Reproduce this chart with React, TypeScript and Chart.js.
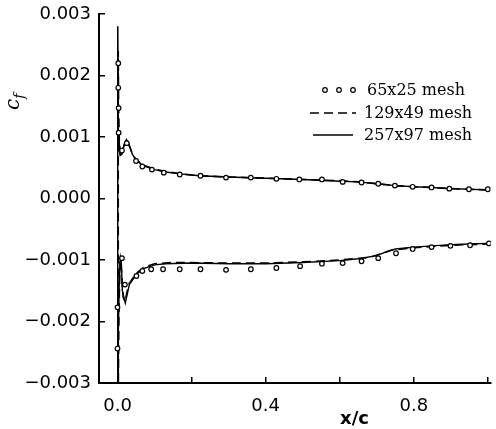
import React, { useEffect, useRef } from "react";
import { Chart, registerables } from "chart.js";

Chart.register(...registerables);

// ---- axis ticks ----
const xTickValues = [0, 0.2, 0.4, 0.6, 0.8, 1.0];
const xTickLabels = ["0.0", "", "0.4", "", "0.8", ""];
const yTickValues = [-0.003, -0.002, -0.001, 0, 0.001, 0.002, 0.003];
const yTickLabels = ["\u22120.003", "\u22120.002", "\u22120.001", "0.000", "0.001", "0.002", "0.003"];

const seriesLabels = ["65x25 mesh", "129x49 mesh", "257x97 mesh"];

// ---- 65x25 mesh (symbols) ----
const coarseUpperX = [0.002, 0.002, 0.003, 0.003, 0.012, 0.025, 0.05, 0.067, 0.093, 0.125, 0.168, 0.224, 0.293, 0.36, 0.429, 0.491, 0.552, 0.608, 0.659, 0.704, 0.749, 0.797, 0.848, 0.896, 0.949, 1.0];
const coarseUpperCf = [0.0022, 0.0018, 0.00147, 0.00107, 0.00078, 0.0009, 0.00061, 0.00052, 0.00047, 0.00042, 0.00039, 0.00037, 0.00034, 0.00034, 0.00032, 0.00031, 0.00031, 0.00027, 0.00026, 0.00024, 0.00021, 0.00019, 0.00018, 0.00016, 0.00015, 0.00015];
const coarseLowerX = [0.0, 0.0, 0.012, 0.02, 0.051, 0.067, 0.091, 0.123, 0.168, 0.224, 0.293, 0.36, 0.429, 0.493, 0.552, 0.608, 0.659, 0.704, 0.752, 0.797, 0.848, 0.899, 0.952, 1.003];
const coarseLowerCf = [-0.00244, -0.00177, -0.00097, -0.0014, -0.00126, -0.00118, -0.00115, -0.00115, -0.00115, -0.00115, -0.00116, -0.00115, -0.00113, -0.0011, -0.00106, -0.00105, -0.00102, -0.00097, -0.00089, -0.00082, -0.00079, -0.00077, -0.00076, -0.00073];

// ---- 129x49 mesh (dashed) ----
const mediumUpperX = [0.002, 0.003, 0.005, 0.008, 0.014, 0.022, 0.03, 0.04, 0.05, 0.07, 0.1, 0.13, 0.17, 0.22, 0.3, 0.4, 0.5, 0.6, 0.65, 0.7, 0.75, 0.8, 0.85, 0.9, 0.95, 1.0];
const mediumUpperCf = [0.0024, 0.0015, 0.0009, 0.0007, 0.0008, 0.00093, 0.00088, 0.00073, 0.00063, 0.00054, 0.00048, 0.00044, 0.0004, 0.00037, 0.00035, 0.00033, 0.00031, 0.00029, 0.00027, 0.00024, 0.00021, 0.00019, 0.00018, 0.00016, 0.00015, 0.00014];
const mediumLowerX = [0.002, 0.004, 0.007, 0.01, 0.015, 0.02, 0.03, 0.05, 0.07, 0.1, 0.15, 0.3, 0.4, 0.5, 0.6, 0.68, 0.71, 0.74, 0.8, 0.9, 1.0];
const mediumLowerCf = [-0.0032, -0.0018, -0.001, -0.0011, -0.0016, -0.00168, -0.0014, -0.00122, -0.00112, -0.00106, -0.00104, -0.00105, -0.00105, -0.00103, -0.001, -0.00096, -0.0009, -0.00084, -0.0008, -0.00076, -0.00074];

// ---- 257x97 mesh (solid) ----
const fineUpperX = [0.0008, 0.002, 0.004, 0.007, 0.012, 0.018, 0.024, 0.03, 0.04, 0.05, 0.07, 0.1, 0.13, 0.17, 0.22, 0.3, 0.4, 0.5, 0.6, 0.65, 0.7, 0.75, 0.8, 0.85, 0.9, 0.95, 1.0];
const fineUpperCf = [0.0028, 0.0016, 0.001, 0.0007, 0.00072, 0.00088, 0.00096, 0.0009, 0.00072, 0.00062, 0.00053, 0.00047, 0.00043, 0.0004, 0.00037, 0.00035, 0.00033, 0.00031, 0.00028, 0.00027, 0.00024, 0.00021, 0.00019, 0.00018, 0.00016, 0.00015, 0.00014];
const fineLowerX = [0.0005, 0.002, 0.005, 0.008, 0.01, 0.013, 0.021, 0.032, 0.05, 0.07, 0.1, 0.13, 0.2, 0.3, 0.4, 0.5, 0.6, 0.65, 0.7, 0.72, 0.75, 0.8, 0.85, 0.9, 0.95, 1.0];
const fineLowerCf = [-0.0032, -0.0022, -0.0013, -0.00095, -0.001, -0.0015, -0.0017, -0.0014, -0.00124, -0.00114, -0.00108, -0.00106, -0.00105, -0.00106, -0.00106, -0.00104, -0.00101, -0.00098, -0.00093, -0.00088, -0.00082, -0.00079, -0.00077, -0.00075, -0.00074, -0.00073];

type P = { x: number; y: number };
const pts = (xs: number[], ys: number[]): P[] => xs.map((x, i) => ({ x, y: ys[i] }));
// path: upper surface from trailing edge to leading edge, then lower surface to trailing edge
const path = (ux: number[], uy: number[], lx: number[], ly: number[]): P[] => [
  ...pts(ux, uy).reverse(),
  ...pts(lx, ly),
];

const overlayPlugin = {
  id: "overlay",
  afterDraw(chart: any) {
    const ctx = chart.ctx as CanvasRenderingContext2D;
    const area = chart.chartArea;
    const xs = chart.scales.x;
    ctx.save();
    ctx.fillStyle = "#000";
    ctx.strokeStyle = "#000";

    // x-axis title
    ctx.font = "bold 18px 'DejaVu Sans'";
    ctx.textAlign = "center";
    ctx.textBaseline = "alphabetic";
    ctx.fillText("x/c", xs.getPixelForValue(0.64), area.bottom + 41);

    // y-axis title c_f (rotated)
    ctx.save();
    ctx.translate(19, area.top + 88);
    ctx.rotate(-Math.PI / 2);
    ctx.textAlign = "left";
    ctx.font = "italic 20px 'DejaVu Serif'";
    ctx.fillText("c", -8, 0);
    const cw = ctx.measureText("c").width;
    ctx.font = "italic 14px 'DejaVu Serif'";
    ctx.fillText("f", -8 + cw, 5);
    ctx.restore();

    // legend
    const ds = chart.data.datasets;
    const textX = area.left + 265;
    const rows = [area.top + 81, area.top + 104, area.top + 126];
    ctx.font = "16px 'DejaVu Serif'";
    ctx.textAlign = "left";
    ctx.textBaseline = "alphabetic";
    ds.forEach((d: any, i: number) => {
      const by = rows[i];
      const my = by - 5;
      ctx.fillText(d.label, i === 0 ? textX + 3 : textX, by);
      ctx.lineWidth = d.borderWidth;
      if (i === 0) {
        [area.left + 226, area.left + 240, area.left + 254].forEach((cx) => {
          ctx.beginPath();
          ctx.arc(cx, my, 2.3, 0, Math.PI * 2);
          ctx.fillStyle = "#fff";
          ctx.fill();
          ctx.stroke();
        });
        ctx.fillStyle = "#000";
      } else {
        ctx.setLineDash(d.borderDash || []);
        ctx.beginPath();
        const x0 = i === 1 ? area.left + 211 : area.left + 214;
        const x1 = i === 1 ? area.left + 257 : area.left + 254;
        ctx.moveTo(x0, my);
        ctx.lineTo(x1, my);
        ctx.stroke();
        ctx.setLineDash([]);
      }
    });
    ctx.restore();
  },
};

export default function App() {
  const ref = useRef<HTMLCanvasElement>(null);
  useEffect(() => {
    if (!ref.current) return;
    const tickFont = { family: "'DejaVu Sans'", size: 18 };
    const chart = new Chart(ref.current, {
      type: "scatter",
      data: {
        datasets: [
          {
            label: seriesLabels[0],
            data: [...pts(coarseUpperX, coarseUpperCf), ...pts(coarseLowerX, coarseLowerCf)],
            showLine: false,
            pointRadius: 2.3,
            pointBorderWidth: 1.2,
            borderWidth: 1.2,
            borderColor: "#000",
            backgroundColor: "#fff",
            pointBackgroundColor: "#fff",
            pointBorderColor: "#000",
          },
          {
            label: seriesLabels[1],
            data: path(mediumUpperX, mediumUpperCf, mediumLowerX, mediumLowerCf),
            showLine: true,
            pointRadius: 0,
            borderWidth: 1.6,
            borderDash: [9, 5],
            borderColor: "#000",
            backgroundColor: "#000",
          },
          {
            label: seriesLabels[2],
            data: path(fineUpperX, fineUpperCf, fineLowerX, fineLowerCf),
            showLine: true,
            pointRadius: 0,
            borderWidth: 1.4,
            borderColor: "#000",
            backgroundColor: "#000",
          },
        ],
      },
      options: {
        animation: false,
        responsive: false,
        layout: { padding: { top: 14, right: 0, left: 0, bottom: 0 } },
        plugins: { legend: { display: false }, tooltip: { enabled: false } },
        scales: {
          x: {
            type: "linear",
            min: -0.05,
            max: 1.008,
            afterBuildTicks: (s: any) => {
              s.ticks = xTickValues.map((v) => ({ value: v }));
            },
            afterFit: (s: any) => {
              s.height = 46;
              s.paddingLeft = 0;
              s.paddingRight = 0;
            },
            ticks: {
              font: tickFont,
              color: "#000",
              padding: 19,
              maxRotation: 0,
              autoSkip: false,
              callback: (v: any) => {
                const i = xTickValues.findIndex((t) => Math.abs(t - Number(v)) < 1e-9);
                return i >= 0 ? xTickLabels[i] : "";
              },
            },
            grid: { drawOnChartArea: false, drawTicks: true, tickLength: -6, color: "#000", lineWidth: 1.5 },
            border: { display: true, color: "#000", width: 2 },
          },
          y: {
            type: "linear",
            min: -0.003,
            max: 0.003,
            afterBuildTicks: (s: any) => {
              s.ticks = yTickValues.map((v) => ({ value: v }));
            },
            afterFit: (s: any) => {
              s.width = 99;
              s.paddingTop = 0;
              s.paddingBottom = 0;
            },
            ticks: {
              font: tickFont,
              color: "#000",
              padding: 14,
              autoSkip: false,
              callback: (v: any) => {
                const i = yTickValues.findIndex((t) => Math.abs(t - Number(v)) < 1e-9);
                return i >= 0 ? yTickLabels[i] : "";
              },
            },
            grid: { drawOnChartArea: false, drawTicks: true, tickLength: -6, color: "#000", lineWidth: 1.5 },
            border: { display: true, color: "#000", width: 2 },
          },
        },
      },
      plugins: [overlayPlugin],
    });
    return () => chart.destroy();
  }, []);
  return (
    <div style={{ position: "absolute", left: 0, top: 0, width: 496, height: 429, background: "#fff" }}>
      <canvas ref={ref} width={496} height={429} />
    </div>
  );
}
